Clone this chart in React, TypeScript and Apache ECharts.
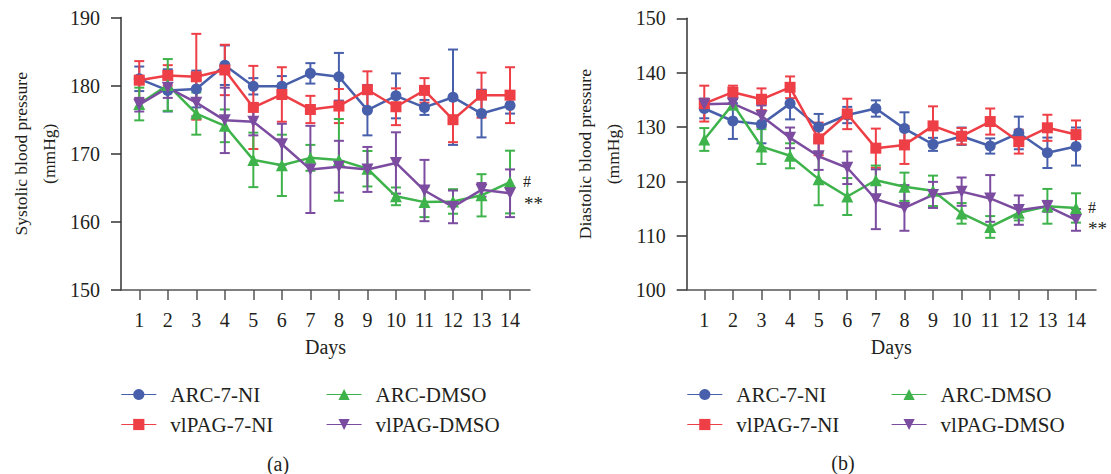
import React, { useEffect, useRef } from "react";
import * as echarts from "echarts";

const days = [1, 2, 3, 4, 5, 6, 7, 8, 9, 10, 11, 12, 13, 14];
const groups = ["ARC-7-NI", "vlPAG-7-NI", "ARC-DMSO", "vlPAG-DMSO"];
const colors = ["#4860ab", "#ee3e46", "#3fb34b", "#7b4c9f"];
const symbols = ["circle", "rect", "triangle", "triangle"];
const symbolRotates = [0, 0, 0, 180];

// Systolic (a)
const sysArc7 = [181.0, 179.3, 179.5, 183.0, 179.9, 179.9, 181.8, 181.3, 176.4, 178.5, 176.8, 178.3, 175.9, 177.1];
const sysArc7Err = [1.8, 3.1, 2.7, 2.9, 1.2, 1.5, 1.5, 3.5, 3.7, 3.3, 1.1, 7.0, 3.5, 1.2];
const sysPag7 = [180.8, 181.5, 181.3, 182.3, 176.8, 178.7, 176.5, 177.0, 179.4, 176.9, 179.3, 175.0, 178.6, 178.6];
const sysPag7Err = [2.8, 1.5, 6.3, 3.7, 6.1, 4.0, 2.0, 2.5, 2.7, 2.7, 1.8, 3.3, 3.3, 4.1];
const sysArcD = [177.3, 180.1, 175.9, 174.1, 169.1, 168.3, 169.4, 169.1, 167.8, 163.75, 162.9, 163.0, 163.9, 165.85];
const sysArcDErr = [2.4, 3.8, 3.1, 2.4, 4.0, 4.5, 1.9, 6.0, 2.6, 1.3, 2.2, 1.8, 3.1, 4.6];
const sysPagD = [177.2, 179.7, 177.5, 174.9, 174.7, 171.4, 167.7, 168.1, 167.7, 168.65, 164.6, 162.2, 164.7, 164.2];
const sysPagDErr = [1.0, 1.5, 2.0, 4.8, 2.0, 3.0, 6.4, 3.8, 3.3, 4.5, 4.5, 2.4, 1.0, 3.5];

// Diastolic (b)
const diaArc7 = [133.4, 131.1, 130.5, 134.3, 130.0, 132.2, 133.4, 129.7, 126.8, 128.3, 126.5, 128.9, 125.25, 126.4];
const diaArc7Err = [1.8, 3.3, 3.5, 2.9, 2.4, 1.5, 1.5, 3.0, 1.2, 1.6, 1.4, 3.0, 2.8, 3.5];
const diaPag7 = [134.3, 136.4, 135.1, 137.3, 127.8, 132.4, 126.1, 126.7, 130.2, 128.3, 131.0, 127.3, 129.85, 128.6];
const diaPag7Err = [3.3, 1.2, 2.0, 2.0, 3.0, 2.8, 3.6, 3.5, 3.6, 1.5, 2.4, 2.2, 2.4, 2.6];
const diaArcD = [127.7, 134.2, 126.4, 124.7, 120.4, 117.2, 120.2, 119.0, 118.25, 114.1, 111.6, 114.2, 115.4, 115.1];
const diaArcDErr = [2.1, 1.0, 3.2, 2.3, 4.8, 3.4, 2.7, 2.6, 2.8, 1.9, 2.0, 1.4, 3.2, 2.7];
const diaPagD = [134.2, 134.3, 132.0, 128.0, 124.6, 122.5, 116.7, 115.1, 117.5, 118.1, 116.85, 114.7, 115.4, 112.9];
const diaPagDErr = [1.0, 1.0, 2.0, 1.9, 2.5, 3.0, 5.5, 4.2, 2.4, 2.6, 4.3, 2.7, 1.0, 2.0];

const sysTicks = [150, 160, 170, 180, 190];
const diaTicks = [100, 110, 120, 130, 140, 150];

const FONT = "'Liberation Serif', 'Times New Roman', serif";
const TXT = "#231f20";

export default function App() {
  const ref = useRef<HTMLDivElement>(null);

  useEffect(() => {
    if (!ref.current) return;
    const chart = echarts.init(ref.current, undefined, { renderer: "svg" });

    const panels = [
      {
        means: [sysArc7, sysPag7, sysArcD, sysPagD],
        errs: [sysArc7Err, sysPag7Err, sysArcDErr, sysPagDErr],
        ticks: sysTicks,
        name: "Systolic blood pressure\n(mmHg)",
        grid: { left: 121, top: 17.5, width: 409, height: 272.5 },
        xMin: 0.36,
        nameGap: 58,
        hashDist: 7,
        starDist: 8,
        hashOffset: [0, -1],
        starOffset: [0, 10],
      },
      {
        means: [diaArc7, diaPag7, diaArcD, diaPagD],
        errs: [diaArc7Err, diaPag7Err, diaArcDErr, diaPagDErr],
        ticks: diaTicks,
        name: "Diastolic blood pressure\n(mmHg)",
        grid: { left: 686.7, top: 18.3, width: 409.3, height: 271.7 },
        xMin: 0.385,
        nameGap: 60,
        hashDist: 6,
        starDist: 6,
        hashOffset: [0, 0],
        starOffset: [0, 9],
      },
    ];

    const grids: any[] = [];
    const xAxes: any[] = [];
    const yAxes: any[] = [];
    const series: any[] = [];

    panels.forEach((p, pi) => {
      grids.push({ ...p.grid, containLabel: false });
      xAxes.push({
        type: "value",
        gridIndex: pi,
        min: p.xMin,
        max: 14.7,
        name: "Days",
        nameLocation: "middle",
        nameGap: 47,
        nameTextStyle: { fontFamily: FONT, fontSize: 20, color: TXT },
        axisLine: { show: true, lineStyle: { color: "#555", width: 1.5 } },
        axisTick: { show: true, inside: false, length: 10, customValues: days, lineStyle: { color: "#555", width: 1.5 } },
        axisLabel: { customValues: days, margin: 20, fontFamily: FONT, fontSize: 20, color: TXT },
        splitLine: { show: false },
      });
      yAxes.push({
        type: "value",
        gridIndex: pi,
        min: p.ticks[0],
        max: p.ticks[p.ticks.length - 1],
        interval: 10,
        name: p.name,
        nameLocation: "middle",
        nameRotate: 90,
        nameGap: p.nameGap,
        nameTextStyle: { fontFamily: FONT, fontSize: 17.5, color: TXT, lineHeight: 28 },
        axisLine: { show: true, lineStyle: { color: "#333", width: 1.5 } },
        axisTick: { show: true, inside: false, length: 10, lineStyle: { color: "#333", width: 1.5 } },
        axisLabel: { margin: 21, fontFamily: FONT, fontSize: 20, color: TXT },
        splitLine: { show: false },
      });

      groups.forEach((g, gi) => {
        const m = p.means[gi];
        const data = days.map((d, i) => {
          const item: any = { value: [d, m[i]] };
          if (i === days.length - 1 && (gi === 2 || gi === 3)) {
            item.label = {
              show: true,
              position: "right",
              distance: gi === 2 ? p.hashDist : p.starDist,
              offset: gi === 2 ? p.hashOffset : p.starOffset,
              formatter: gi === 2 ? "#" : "**",
              fontFamily: FONT,
              fontSize: gi === 2 ? 16 : 19,
              color: TXT,
            };
          }
          return item;
        });
        series.push({
          type: "line",
          name: g,
          xAxisIndex: pi,
          yAxisIndex: pi,
          data,
          symbol: symbols[gi],
          symbolSize: gi >= 2 ? 12 : 11,
          symbolRotate: symbolRotates[gi],
          showAllSymbol: true,
          lineStyle: { color: colors[gi], width: 2.5 },
          itemStyle: { color: colors[gi] },
          z: 3,
        });
      });

      groups.forEach((g, gi) => {
        const m = p.means[gi];
        const e = p.errs[gi];
        const color = colors[gi];
        series.push({
          type: "custom",
          name: g + " SEM",
          xAxisIndex: pi,
          yAxisIndex: pi,
          z: 2,
          encode: { x: 0, y: [1, 2] },
          data: days.map((d, i) => [d, m[i] - e[i], m[i] + e[i]]),
          renderItem: (params: any, api: any) => {
            const x = api.value(0);
            const top = api.coord([x, api.value(2)]);
            const bot = api.coord([x, api.value(1)]);
            const w = 5;
            const st = { stroke: color, lineWidth: 2 };
            return {
              type: "group",
              children: [
                { type: "line", shape: { x1: top[0], y1: top[1], x2: bot[0], y2: bot[1] }, style: st },
                { type: "line", shape: { x1: top[0] - w, y1: top[1], x2: top[0] + w, y2: top[1] }, style: st },
                { type: "line", shape: { x1: bot[0] - w, y1: bot[1], x2: bot[0] + w, y2: bot[1] }, style: st },
              ],
            };
          },
        });
      });
    });

    const legendBase = {
      orient: "vertical",
      top: 384,
      padding: 0,
      itemWidth: 35,
      itemHeight: 14,
      itemGap: 9,
      selectedMode: false,
      lineStyle: { width: 1.2 },
      textStyle: { fontFamily: FONT, fontSize: 21, color: TXT, lineHeight: 20, padding: [0, 0, 0, 9] },
    };

    const option: any = {
      animation: false,
      backgroundColor: "#ffffff",
      grid: grids,
      xAxis: xAxes,
      yAxis: yAxes,
      series,
      legend: [
        { ...legendBase, left: 120.7, data: ["ARC-7-NI", "vlPAG-7-NI"] },
        { ...legendBase, left: 326, data: ["ARC-DMSO", "vlPAG-DMSO"] },
        { ...legendBase, left: 686.7, data: ["ARC-7-NI", "vlPAG-7-NI"] },
        { ...legendBase, left: 891, data: ["ARC-DMSO", "vlPAG-DMSO"] },
      ],
      graphic: [
        { type: "text", x: 278, y: 464, style: { text: "(a)", fontFamily: FONT, fontSize: 20, fill: TXT, align: "center", verticalAlign: "middle" } },
        { type: "text", x: 843, y: 463, style: { text: "(b)", fontFamily: FONT, fontSize: 20, fill: TXT, align: "center", verticalAlign: "middle" } },
      ],
    };

    chart.setOption(option);
    return () => chart.dispose();
  }, []);

  return <div ref={ref} style={{ width: 1111, height: 474, position: "absolute", left: 0, top: 0 }} />;
}
